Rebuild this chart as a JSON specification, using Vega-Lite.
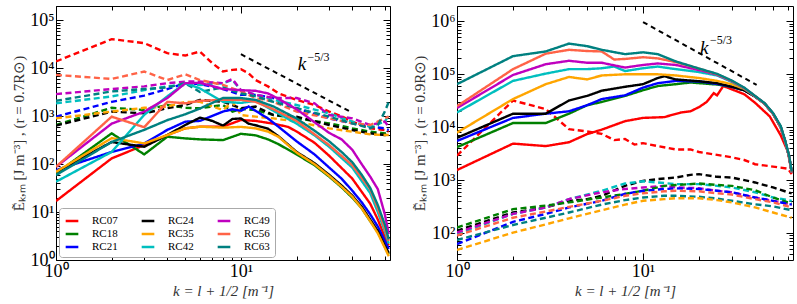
{
"$schema": "https://vega.github.io/schema/vega-lite/v6.json",
"padding": {"left": 11, "top": 5, "right": 4, "bottom": 2},
"background": "white",
"config": {
  "view": {"stroke": "#000", "strokeWidth": 1},
  "axis": {"grid": false, "domain": false, "labelFont": "Liberation Serif", "labelColor": "#000", "tickColor": "#000", "titleFont": "Liberation Serif", "titleFontSize": 15, "titleFontWeight": "normal", "titleColor": "#333", "labelOverlap": false, "labelFlush": false, "labelBound": false}
},
"datasets": {
"L": [
{"s":"RC07","d":"d","k":1,"v":13900},{"s":"RC07","d":"d","k":2,"v":40700},{"s":"RC07","d":"d","k":3,"v":33600},{"s":"RC07","d":"d","k":4,"v":20700},{"s":"RC07","d":"d","k":5,"v":18500},{"s":"RC07","d":"d","k":6,"v":22400},{"s":"RC07","d":"d","k":7,"v":12800},{"s":"RC07","d":"d","k":8,"v":8600},{"s":"RC07","d":"d","k":9,"v":9300},{"s":"RC07","d":"d","k":10,"v":9600},{"s":"RC07","d":"d","k":11,"v":7900},{"s":"RC07","d":"d","k":12,"v":5700},{"s":"RC07","d":"d","k":14,"v":4200},{"s":"RC07","d":"d","k":16,"v":3000},{"s":"RC07","d":"d","k":20,"v":2200},{"s":"RC07","d":"d","k":25,"v":1720},{"s":"RC07","d":"d","k":30,"v":1250},{"s":"RC07","d":"d","k":35,"v":1000},{"s":"RC07","d":"d","k":40,"v":771},{"s":"RC07","d":"d","k":50,"v":560},{"s":"RC07","d":"d","k":60,"v":516},{"s":"RC07","d":"d","k":63,"v":476},
{"s":"RC18","d":"d","k":1,"v":657},{"s":"RC18","d":"d","k":2,"v":1500},{"s":"RC18","d":"d","k":3,"v":1350},{"s":"RC18","d":"d","k":4,"v":1720},{"s":"RC18","d":"d","k":5,"v":1500},{"s":"RC18","d":"d","k":6,"v":1470},{"s":"RC18","d":"d","k":8,"v":1720},{"s":"RC18","d":"d","k":9,"v":1250},{"s":"RC18","d":"d","k":10,"v":1420},{"s":"RC18","d":"d","k":12,"v":1350},{"s":"RC18","d":"d","k":15,"v":1060},{"s":"RC18","d":"d","k":20,"v":905},{"s":"RC18","d":"d","k":30,"v":711},{"s":"RC18","d":"d","k":40,"v":560},{"s":"RC18","d":"d","k":50,"v":476},{"s":"RC18","d":"d","k":60,"v":440},{"s":"RC18","d":"d","k":63,"v":476},
{"s":"RC21","d":"d","k":1,"v":980},{"s":"RC21","d":"d","k":2,"v":2000},{"s":"RC21","d":"d","k":3,"v":2700},{"s":"RC21","d":"d","k":4,"v":3700},{"s":"RC21","d":"d","k":5,"v":4900},{"s":"RC21","d":"d","k":6,"v":4700},{"s":"RC21","d":"d","k":8,"v":3700},{"s":"RC21","d":"d","k":10,"v":2800},{"s":"RC21","d":"d","k":12,"v":2800},{"s":"RC21","d":"d","k":15,"v":2400},{"s":"RC21","d":"d","k":20,"v":1470},{"s":"RC21","d":"d","k":30,"v":905},{"s":"RC21","d":"d","k":40,"v":711},{"s":"RC21","d":"d","k":50,"v":606},{"s":"RC21","d":"d","k":60,"v":560},{"s":"RC21","d":"d","k":63,"v":516},
{"s":"RC24","d":"d","k":1,"v":636},{"s":"RC24","d":"d","k":2,"v":1250},{"s":"RC24","d":"d","k":3,"v":1150},{"s":"RC24","d":"d","k":4,"v":1470},{"s":"RC24","d":"d","k":5,"v":1720},{"s":"RC24","d":"d","k":6,"v":2200},{"s":"RC24","d":"d","k":8,"v":2000},{"s":"RC24","d":"d","k":10,"v":1470},{"s":"RC24","d":"d","k":12,"v":1590},{"s":"RC24","d":"d","k":15,"v":1060},{"s":"RC24","d":"d","k":20,"v":980},{"s":"RC24","d":"d","k":30,"v":657},{"s":"RC24","d":"d","k":40,"v":516},{"s":"RC24","d":"d","k":50,"v":440},{"s":"RC24","d":"d","k":60,"v":405},{"s":"RC24","d":"d","k":63,"v":405},
{"s":"RC35","d":"d","k":1,"v":905},{"s":"RC35","d":"d","k":2,"v":1250},{"s":"RC35","d":"d","k":3,"v":1500},{"s":"RC35","d":"d","k":4,"v":1590},{"s":"RC35","d":"d","k":5,"v":2000},{"s":"RC35","d":"d","k":6,"v":2000},{"s":"RC35","d":"d","k":8,"v":1350},{"s":"RC35","d":"d","k":9,"v":2000},{"s":"RC35","d":"d","k":10,"v":1060},{"s":"RC35","d":"d","k":12,"v":980},{"s":"RC35","d":"d","k":15,"v":905},{"s":"RC35","d":"d","k":20,"v":771},{"s":"RC35","d":"d","k":30,"v":560},{"s":"RC35","d":"d","k":40,"v":476},{"s":"RC35","d":"d","k":50,"v":419},{"s":"RC35","d":"d","k":60,"v":405},{"s":"RC35","d":"d","k":63,"v":405},
{"s":"RC42","d":"d","k":1,"v":1860},{"s":"RC42","d":"d","k":2,"v":2600},{"s":"RC42","d":"d","k":3,"v":3500},{"s":"RC42","d":"d","k":4,"v":4200},{"s":"RC42","d":"d","k":5,"v":4500},{"s":"RC42","d":"d","k":6,"v":4500},{"s":"RC42","d":"d","k":8,"v":4900},{"s":"RC42","d":"d","k":9,"v":5700},{"s":"RC42","d":"d","k":10,"v":3500},{"s":"RC42","d":"d","k":12,"v":2800},{"s":"RC42","d":"d","k":15,"v":2200},{"s":"RC42","d":"d","k":20,"v":1720},{"s":"RC42","d":"d","k":30,"v":1150},{"s":"RC42","d":"d","k":40,"v":771},{"s":"RC42","d":"d","k":50,"v":606},{"s":"RC42","d":"d","k":60,"v":771},{"s":"RC42","d":"d","k":63,"v":1060},
{"s":"RC49","d":"d","k":1,"v":2900},{"s":"RC49","d":"d","k":2,"v":3700},{"s":"RC49","d":"d","k":3,"v":4200},{"s":"RC49","d":"d","k":4,"v":4900},{"s":"RC49","d":"d","k":5,"v":5300},{"s":"RC49","d":"d","k":6,"v":5300},{"s":"RC49","d":"d","k":8,"v":4900},{"s":"RC49","d":"d","k":9,"v":6000},{"s":"RC49","d":"d","k":10,"v":3500},{"s":"RC49","d":"d","k":12,"v":2800},{"s":"RC49","d":"d","k":15,"v":2400},{"s":"RC49","d":"d","k":20,"v":2400},{"s":"RC49","d":"d","k":25,"v":1860},{"s":"RC49","d":"d","k":30,"v":1060},{"s":"RC49","d":"d","k":40,"v":905},{"s":"RC49","d":"d","k":50,"v":657},{"s":"RC49","d":"d","k":60,"v":771},{"s":"RC49","d":"d","k":63,"v":606},
{"s":"RC56","d":"d","k":1,"v":7300},{"s":"RC56","d":"d","k":2,"v":6000},{"s":"RC56","d":"d","k":3,"v":8600},{"s":"RC56","d":"d","k":4,"v":5700},{"s":"RC56","d":"d","k":5,"v":7500},{"s":"RC56","d":"d","k":6,"v":5700},{"s":"RC56","d":"d","k":8,"v":4500},{"s":"RC56","d":"d","k":10,"v":3300},{"s":"RC56","d":"d","k":12,"v":2400},{"s":"RC56","d":"d","k":15,"v":2000},{"s":"RC56","d":"d","k":20,"v":1250},{"s":"RC56","d":"d","k":30,"v":905},{"s":"RC56","d":"d","k":40,"v":711},{"s":"RC56","d":"d","k":50,"v":657},{"s":"RC56","d":"d","k":60,"v":905},{"s":"RC56","d":"d","k":63,"v":980},
{"s":"RC63","d":"d","k":1,"v":2100},{"s":"RC63","d":"d","k":2,"v":3300},{"s":"RC63","d":"d","k":3,"v":3700},{"s":"RC63","d":"d","k":4,"v":4000},{"s":"RC63","d":"d","k":5,"v":4900},{"s":"RC63","d":"d","k":6,"v":3200},{"s":"RC63","d":"d","k":8,"v":4000},{"s":"RC63","d":"d","k":10,"v":3000},{"s":"RC63","d":"d","k":12,"v":2600},{"s":"RC63","d":"d","k":15,"v":2000},{"s":"RC63","d":"d","k":20,"v":1470},{"s":"RC63","d":"d","k":30,"v":980},{"s":"RC63","d":"d","k":40,"v":711},{"s":"RC63","d":"d","k":50,"v":560},{"s":"RC63","d":"d","k":55,"v":657},{"s":"RC63","d":"d","k":60,"v":1250},{"s":"RC63","d":"d","k":63,"v":2000},
{"s":"RC07","d":"s","k":1,"v":17},{"s":"RC07","d":"s","k":2,"v":132},{"s":"RC07","d":"s","k":3,"v":250},{"s":"RC07","d":"s","k":4,"v":405},{"s":"RC07","d":"s","k":5,"v":560},{"s":"RC07","d":"s","k":6,"v":606},{"s":"RC07","d":"s","k":8,"v":606},{"s":"RC07","d":"s","k":10,"v":835},{"s":"RC07","d":"s","k":12,"v":800},{"s":"RC07","d":"s","k":15,"v":700},{"s":"RC07","d":"s","k":18,"v":600},{"s":"RC07","d":"s","k":20,"v":480},{"s":"RC07","d":"s","k":25,"v":280},{"s":"RC07","d":"s","k":30,"v":150},{"s":"RC07","d":"s","k":40,"v":50},{"s":"RC07","d":"s","k":50,"v":15},{"s":"RC07","d":"s","k":55,"v":7},{"s":"RC07","d":"s","k":60,"v":3},{"s":"RC07","d":"s","k":63,"v":2},
{"s":"RC18","d":"s","k":1,"v":64},{"s":"RC18","d":"s","k":2,"v":440},{"s":"RC18","d":"s","k":3,"v":160},{"s":"RC18","d":"s","k":4,"v":374},{"s":"RC18","d":"s","k":5,"v":345},{"s":"RC18","d":"s","k":6,"v":329},{"s":"RC18","d":"s","k":8,"v":318},{"s":"RC18","d":"s","k":10,"v":430},{"s":"RC18","d":"s","k":12,"v":400},{"s":"RC18","d":"s","k":14,"v":330},{"s":"RC18","d":"s","k":16,"v":260},{"s":"RC18","d":"s","k":20,"v":160},{"s":"RC18","d":"s","k":25,"v":95},{"s":"RC18","d":"s","k":30,"v":55},{"s":"RC18","d":"s","k":35,"v":33},{"s":"RC18","d":"s","k":40,"v":20},{"s":"RC18","d":"s","k":45,"v":12},{"s":"RC18","d":"s","k":50,"v":6.5},{"s":"RC18","d":"s","k":55,"v":3.8},{"s":"RC18","d":"s","k":60,"v":1.9},{"s":"RC18","d":"s","k":63,"v":1.3},
{"s":"RC21","d":"s","k":1,"v":75},{"s":"RC21","d":"s","k":2,"v":180},{"s":"RC21","d":"s","k":3,"v":270},{"s":"RC21","d":"s","k":4,"v":520},{"s":"RC21","d":"s","k":5,"v":770},{"s":"RC21","d":"s","k":6,"v":800},{"s":"RC21","d":"s","k":8,"v":1250},{"s":"RC21","d":"s","k":9,"v":1400},{"s":"RC21","d":"s","k":10,"v":1300},{"s":"RC21","d":"s","k":11,"v":1600},{"s":"RC21","d":"s","k":12,"v":1300},{"s":"RC21","d":"s","k":14,"v":900},{"s":"RC21","d":"s","k":16,"v":600},{"s":"RC21","d":"s","k":20,"v":300},{"s":"RC21","d":"s","k":25,"v":160},{"s":"RC21","d":"s","k":30,"v":85},{"s":"RC21","d":"s","k":35,"v":50},{"s":"RC21","d":"s","k":40,"v":28},{"s":"RC21","d":"s","k":45,"v":16},{"s":"RC21","d":"s","k":50,"v":9},{"s":"RC21","d":"s","k":55,"v":5},{"s":"RC21","d":"s","k":60,"v":2.5},{"s":"RC21","d":"s","k":63,"v":1.7},
{"s":"RC24","d":"s","k":1,"v":69},{"s":"RC24","d":"s","k":2,"v":290},{"s":"RC24","d":"s","k":3,"v":231},{"s":"RC24","d":"s","k":4,"v":405},{"s":"RC24","d":"s","k":5,"v":657},{"s":"RC24","d":"s","k":6,"v":935},{"s":"RC24","d":"s","k":7,"v":800},{"s":"RC24","d":"s","k":8,"v":636},{"s":"RC24","d":"s","k":9,"v":877},{"s":"RC24","d":"s","k":10,"v":900},{"s":"RC24","d":"s","k":11,"v":700},{"s":"RC24","d":"s","k":12,"v":650},{"s":"RC24","d":"s","k":14,"v":550},{"s":"RC24","d":"s","k":16,"v":380},{"s":"RC24","d":"s","k":20,"v":180},{"s":"RC24","d":"s","k":25,"v":105},{"s":"RC24","d":"s","k":30,"v":60},{"s":"RC24","d":"s","k":35,"v":36},{"s":"RC24","d":"s","k":40,"v":22},{"s":"RC24","d":"s","k":45,"v":13},{"s":"RC24","d":"s","k":50,"v":7},{"s":"RC24","d":"s","k":55,"v":4},{"s":"RC24","d":"s","k":60,"v":2},{"s":"RC24","d":"s","k":63,"v":1.4},
{"s":"RC35","d":"s","k":1,"v":69},{"s":"RC35","d":"s","k":2,"v":350},{"s":"RC35","d":"s","k":3,"v":271},{"s":"RC35","d":"s","k":4,"v":405},{"s":"RC35","d":"s","k":5,"v":560},{"s":"RC35","d":"s","k":6,"v":606},{"s":"RC35","d":"s","k":8,"v":578},{"s":"RC35","d":"s","k":10,"v":600},{"s":"RC35","d":"s","k":12,"v":560},{"s":"RC35","d":"s","k":14,"v":480},{"s":"RC35","d":"s","k":16,"v":370},{"s":"RC35","d":"s","k":20,"v":175},{"s":"RC35","d":"s","k":25,"v":100},{"s":"RC35","d":"s","k":30,"v":57},{"s":"RC35","d":"s","k":35,"v":34},{"s":"RC35","d":"s","k":40,"v":21},{"s":"RC35","d":"s","k":45,"v":12},{"s":"RC35","d":"s","k":50,"v":6.5},{"s":"RC35","d":"s","k":55,"v":3.6},{"s":"RC35","d":"s","k":60,"v":1.8},{"s":"RC35","d":"s","k":63,"v":1.2},
{"s":"RC42","d":"s","k":1,"v":43},{"s":"RC42","d":"s","k":2,"v":180},{"s":"RC42","d":"s","k":3,"v":1070},{"s":"RC42","d":"s","k":4,"v":2600},{"s":"RC42","d":"s","k":5,"v":4900},{"s":"RC42","d":"s","k":6,"v":3800},{"s":"RC42","d":"s","k":7,"v":2700},{"s":"RC42","d":"s","k":8,"v":2000},{"s":"RC42","d":"s","k":10,"v":1900},{"s":"RC42","d":"s","k":12,"v":2100},{"s":"RC42","d":"s","k":15,"v":1300},{"s":"RC42","d":"s","k":20,"v":700},{"s":"RC42","d":"s","k":25,"v":400},{"s":"RC42","d":"s","k":30,"v":230},{"s":"RC42","d":"s","k":40,"v":85},{"s":"RC42","d":"s","k":50,"v":25},{"s":"RC42","d":"s","k":55,"v":10},{"s":"RC42","d":"s","k":60,"v":4},{"s":"RC42","d":"s","k":63,"v":2.2},
{"s":"RC49","d":"s","k":1,"v":88},{"s":"RC49","d":"s","k":2,"v":700},{"s":"RC49","d":"s","k":3,"v":1250},{"s":"RC49","d":"s","k":4,"v":2400},{"s":"RC49","d":"s","k":5,"v":4900},{"s":"RC49","d":"s","k":6,"v":5000},{"s":"RC49","d":"s","k":8,"v":3700},{"s":"RC49","d":"s","k":10,"v":3500},{"s":"RC49","d":"s","k":12,"v":3400},{"s":"RC49","d":"s","k":14,"v":3000},{"s":"RC49","d":"s","k":16,"v":2300},{"s":"RC49","d":"s","k":20,"v":1400},{"s":"RC49","d":"s","k":25,"v":750},{"s":"RC49","d":"s","k":30,"v":450},{"s":"RC49","d":"s","k":35,"v":330},{"s":"RC49","d":"s","k":40,"v":200},{"s":"RC49","d":"s","k":45,"v":100},{"s":"RC49","d":"s","k":50,"v":55},{"s":"RC49","d":"s","k":55,"v":30},{"s":"RC49","d":"s","k":60,"v":9},{"s":"RC49","d":"s","k":63,"v":3.5},
{"s":"RC56","d":"s","k":1,"v":88},{"s":"RC56","d":"s","k":2,"v":980},{"s":"RC56","d":"s","k":3,"v":590},{"s":"RC56","d":"s","k":4,"v":2000},{"s":"RC56","d":"s","k":5,"v":1860},{"s":"RC56","d":"s","k":6,"v":2100},{"s":"RC56","d":"s","k":8,"v":2200},{"s":"RC56","d":"s","k":10,"v":2200},{"s":"RC56","d":"s","k":12,"v":2000},{"s":"RC56","d":"s","k":15,"v":1400},{"s":"RC56","d":"s","k":20,"v":800},{"s":"RC56","d":"s","k":25,"v":420},{"s":"RC56","d":"s","k":30,"v":250},{"s":"RC56","d":"s","k":40,"v":95},{"s":"RC56","d":"s","k":50,"v":30},{"s":"RC56","d":"s","k":55,"v":12},{"s":"RC56","d":"s","k":60,"v":4.5},{"s":"RC56","d":"s","k":63,"v":2.5},
{"s":"RC63","d":"s","k":1,"v":59},{"s":"RC63","d":"s","k":2,"v":290},{"s":"RC63","d":"s","k":3,"v":520},{"s":"RC63","d":"s","k":4,"v":830},{"s":"RC63","d":"s","k":5,"v":1100},{"s":"RC63","d":"s","k":6,"v":1450},{"s":"RC63","d":"s","k":8,"v":2400},{"s":"RC63","d":"s","k":10,"v":2400},{"s":"RC63","d":"s","k":12,"v":2200},{"s":"RC63","d":"s","k":15,"v":1600},{"s":"RC63","d":"s","k":20,"v":900},{"s":"RC63","d":"s","k":25,"v":500},{"s":"RC63","d":"s","k":30,"v":300},{"s":"RC63","d":"s","k":35,"v":180},{"s":"RC63","d":"s","k":40,"v":110},{"s":"RC63","d":"s","k":45,"v":60},{"s":"RC63","d":"s","k":50,"v":32},{"s":"RC63","d":"s","k":55,"v":14},{"s":"RC63","d":"s","k":60,"v":5.5},{"s":"RC63","d":"s","k":63,"v":2.7}
],
"R": [
{"s":"RC07","d":"d","k":1,"v":2900},{"s":"RC07","d":"d","k":2,"v":32000},{"s":"RC07","d":"d","k":3,"v":22000},{"s":"RC07","d":"d","k":4,"v":9200},{"s":"RC07","d":"d","k":5,"v":8300},{"s":"RC07","d":"d","k":6,"v":7500},{"s":"RC07","d":"d","k":7,"v":5700},{"s":"RC07","d":"d","k":8,"v":6000},{"s":"RC07","d":"d","k":9,"v":4700},{"s":"RC07","d":"d","k":10,"v":5000},{"s":"RC07","d":"d","k":12,"v":4400},{"s":"RC07","d":"d","k":15,"v":3800},{"s":"RC07","d":"d","k":18,"v":3800},{"s":"RC07","d":"d","k":20,"v":3400},{"s":"RC07","d":"d","k":25,"v":3000},{"s":"RC07","d":"d","k":30,"v":2700},{"s":"RC07","d":"d","k":35,"v":2400},{"s":"RC07","d":"d","k":40,"v":2000},{"s":"RC07","d":"d","k":50,"v":1800},{"s":"RC07","d":"d","k":60,"v":1650},{"s":"RC07","d":"d","k":63,"v":1300},
{"s":"RC24","d":"d","k":1,"v":111},{"s":"RC24","d":"d","k":2,"v":245},{"s":"RC24","d":"d","k":3,"v":305},{"s":"RC24","d":"d","k":4,"v":407},{"s":"RC24","d":"d","k":5,"v":438},{"s":"RC24","d":"d","k":6,"v":506},{"s":"RC24","d":"d","k":8,"v":782},{"s":"RC24","d":"d","k":10,"v":970},{"s":"RC24","d":"d","k":12,"v":1045},{"s":"RC24","d":"d","k":15,"v":1122},{"s":"RC24","d":"d","k":18,"v":1260},{"s":"RC24","d":"d","k":20,"v":1297},{"s":"RC24","d":"d","k":25,"v":1156},{"s":"RC24","d":"d","k":30,"v":1122},{"s":"RC24","d":"d","k":40,"v":904},{"s":"RC24","d":"d","k":50,"v":728},{"s":"RC24","d":"d","k":63,"v":560},
{"s":"RC42","d":"d","k":1,"v":96},{"s":"RC42","d":"d","k":2,"v":230},{"s":"RC42","d":"d","k":3,"v":305},{"s":"RC42","d":"d","k":4,"v":438},{"s":"RC42","d":"d","k":6,"v":630},{"s":"RC42","d":"d","k":8,"v":863},{"s":"RC42","d":"d","k":10,"v":950},{"s":"RC42","d":"d","k":12,"v":904},{"s":"RC42","d":"d","k":15,"v":840},{"s":"RC42","d":"d","k":20,"v":840},{"s":"RC42","d":"d","k":25,"v":780},{"s":"RC42","d":"d","k":30,"v":728},{"s":"RC42","d":"d","k":40,"v":590},{"s":"RC42","d":"d","k":50,"v":470},{"s":"RC42","d":"d","k":63,"v":407},
{"s":"RC49","d":"d","k":1,"v":102},{"s":"RC49","d":"d","k":2,"v":230},{"s":"RC49","d":"d","k":3,"v":305},{"s":"RC49","d":"d","k":4,"v":438},{"s":"RC49","d":"d","k":6,"v":590},{"s":"RC49","d":"d","k":8,"v":680},{"s":"RC49","d":"d","k":10,"v":728},{"s":"RC49","d":"d","k":13,"v":780},{"s":"RC49","d":"d","k":15,"v":728},{"s":"RC49","d":"d","k":20,"v":705},{"s":"RC49","d":"d","k":25,"v":630},{"s":"RC49","d":"d","k":30,"v":590},{"s":"RC49","d":"d","k":40,"v":470},{"s":"RC49","d":"d","k":50,"v":407},{"s":"RC49","d":"d","k":63,"v":345},
{"s":"RC18","d":"d","k":1,"v":127},{"s":"RC18","d":"d","k":2,"v":283},{"s":"RC18","d":"d","k":3,"v":330},{"s":"RC18","d":"d","k":4,"v":380},{"s":"RC18","d":"d","k":6,"v":470},{"s":"RC18","d":"d","k":8,"v":550},{"s":"RC18","d":"d","k":10,"v":630},{"s":"RC18","d":"d","k":13,"v":780},{"s":"RC18","d":"d","k":15,"v":810},{"s":"RC18","d":"d","k":20,"v":863},{"s":"RC18","d":"d","k":25,"v":810},{"s":"RC18","d":"d","k":30,"v":780},{"s":"RC18","d":"d","k":40,"v":645},{"s":"RC18","d":"d","k":50,"v":470},{"s":"RC18","d":"d","k":63,"v":360},
{"s":"RC21","d":"d","k":1,"v":62},{"s":"RC21","d":"d","k":2,"v":163},{"s":"RC21","d":"d","k":3,"v":230},{"s":"RC21","d":"d","k":4,"v":305},{"s":"RC21","d":"d","k":6,"v":407},{"s":"RC21","d":"d","k":8,"v":550},{"s":"RC21","d":"d","k":10,"v":630},{"s":"RC21","d":"d","k":13,"v":680},{"s":"RC21","d":"d","k":15,"v":700},{"s":"RC21","d":"d","k":20,"v":680},{"s":"RC21","d":"d","k":25,"v":630},{"s":"RC21","d":"d","k":30,"v":590},{"s":"RC21","d":"d","k":40,"v":470},{"s":"RC21","d":"d","k":50,"v":407},{"s":"RC21","d":"d","k":63,"v":345},
{"s":"RC56","d":"d","k":1,"v":90},{"s":"RC56","d":"d","k":2,"v":195},{"s":"RC56","d":"d","k":3,"v":255},{"s":"RC56","d":"d","k":4,"v":313},{"s":"RC56","d":"d","k":6,"v":407},{"s":"RC56","d":"d","k":8,"v":506},{"s":"RC56","d":"d","k":10,"v":565},{"s":"RC56","d":"d","k":13,"v":615},{"s":"RC56","d":"d","k":15,"v":630},{"s":"RC56","d":"d","k":20,"v":615},{"s":"RC56","d":"d","k":25,"v":565},{"s":"RC56","d":"d","k":30,"v":535},{"s":"RC56","d":"d","k":40,"v":438},{"s":"RC56","d":"d","k":50,"v":380},{"s":"RC56","d":"d","k":63,"v":305},
{"s":"RC63","d":"d","k":1,"v":74},{"s":"RC63","d":"d","k":2,"v":142},{"s":"RC63","d":"d","k":3,"v":195},{"s":"RC63","d":"d","k":4,"v":245},{"s":"RC63","d":"d","k":6,"v":345},{"s":"RC63","d":"d","k":8,"v":420},{"s":"RC63","d":"d","k":10,"v":470},{"s":"RC63","d":"d","k":13,"v":506},{"s":"RC63","d":"d","k":15,"v":506},{"s":"RC63","d":"d","k":20,"v":485},{"s":"RC63","d":"d","k":25,"v":450},{"s":"RC63","d":"d","k":30,"v":407},{"s":"RC63","d":"d","k":40,"v":350},{"s":"RC63","d":"d","k":50,"v":320},{"s":"RC63","d":"d","k":63,"v":270},
{"s":"RC35","d":"d","k":1,"v":48},{"s":"RC35","d":"d","k":2,"v":102},{"s":"RC35","d":"d","k":3,"v":146},{"s":"RC35","d":"d","k":4,"v":190},{"s":"RC35","d":"d","k":6,"v":270},{"s":"RC35","d":"d","k":8,"v":345},{"s":"RC35","d":"d","k":10,"v":407},{"s":"RC35","d":"d","k":13,"v":438},{"s":"RC35","d":"d","k":15,"v":455},{"s":"RC35","d":"d","k":20,"v":455},{"s":"RC35","d":"d","k":25,"v":420},{"s":"RC35","d":"d","k":30,"v":380},{"s":"RC35","d":"d","k":40,"v":305},{"s":"RC35","d":"d","k":50,"v":245},{"s":"RC35","d":"d","k":63,"v":195},
{"s":"RC07","d":"s","k":1,"v":1550},{"s":"RC07","d":"s","k":2,"v":4900},{"s":"RC07","d":"s","k":3,"v":4400},{"s":"RC07","d":"s","k":4,"v":5200},{"s":"RC07","d":"s","k":5,"v":7400},{"s":"RC07","d":"s","k":6,"v":9000},{"s":"RC07","d":"s","k":8,"v":13000},{"s":"RC07","d":"s","k":10,"v":15000},{"s":"RC07","d":"s","k":13,"v":15500},{"s":"RC07","d":"s","k":16,"v":19000},{"s":"RC07","d":"s","k":18,"v":20000},{"s":"RC07","d":"s","k":20,"v":24000},{"s":"RC07","d":"s","k":22,"v":30000},{"s":"RC07","d":"s","k":24,"v":44000},{"s":"RC07","d":"s","k":25,"v":40000},{"s":"RC07","d":"s","k":27,"v":60000},{"s":"RC07","d":"s","k":30,"v":52000},{"s":"RC07","d":"s","k":35,"v":42000},{"s":"RC07","d":"s","k":40,"v":29000},{"s":"RC07","d":"s","k":48,"v":16000},{"s":"RC07","d":"s","k":55,"v":7000},{"s":"RC07","d":"s","k":60,"v":3500},{"s":"RC07","d":"s","k":63,"v":1400},
{"s":"RC18","d":"s","k":1,"v":4200},{"s":"RC18","d":"s","k":2,"v":12000},{"s":"RC18","d":"s","k":3,"v":12000},{"s":"RC18","d":"s","k":4,"v":18000},{"s":"RC18","d":"s","k":5,"v":26000},{"s":"RC18","d":"s","k":6,"v":30000},{"s":"RC18","d":"s","k":8,"v":39000},{"s":"RC18","d":"s","k":10,"v":50000},{"s":"RC18","d":"s","k":12,"v":60000},{"s":"RC18","d":"s","k":15,"v":65000},{"s":"RC18","d":"s","k":18,"v":70000},{"s":"RC18","d":"s","k":20,"v":68000},{"s":"RC18","d":"s","k":25,"v":64000},{"s":"RC18","d":"s","k":30,"v":58000},{"s":"RC18","d":"s","k":35,"v":50000},{"s":"RC18","d":"s","k":40,"v":38000},{"s":"RC18","d":"s","k":45,"v":28000},{"s":"RC18","d":"s","k":50,"v":18000},{"s":"RC18","d":"s","k":55,"v":10000},{"s":"RC18","d":"s","k":58,"v":5500},{"s":"RC18","d":"s","k":61,"v":2800},{"s":"RC18","d":"s","k":63,"v":1400},
{"s":"RC21","d":"s","k":1,"v":5500},{"s":"RC21","d":"s","k":2,"v":15000},{"s":"RC21","d":"s","k":3,"v":18000},{"s":"RC21","d":"s","k":4,"v":20000},{"s":"RC21","d":"s","k":5,"v":26000},{"s":"RC21","d":"s","k":6,"v":34000},{"s":"RC21","d":"s","k":8,"v":40000},{"s":"RC21","d":"s","k":10,"v":56000},{"s":"RC21","d":"s","k":12,"v":68000},{"s":"RC21","d":"s","k":15,"v":75000},{"s":"RC21","d":"s","k":20,"v":73000},{"s":"RC21","d":"s","k":25,"v":66000},{"s":"RC21","d":"s","k":30,"v":58000},{"s":"RC21","d":"s","k":35,"v":50000},{"s":"RC21","d":"s","k":40,"v":38000},{"s":"RC21","d":"s","k":45,"v":28000},{"s":"RC21","d":"s","k":50,"v":18000},{"s":"RC21","d":"s","k":55,"v":10000},{"s":"RC21","d":"s","k":58,"v":5500},{"s":"RC21","d":"s","k":61,"v":2800},{"s":"RC21","d":"s","k":63,"v":1400},
{"s":"RC24","d":"s","k":1,"v":6300},{"s":"RC24","d":"s","k":2,"v":18000},{"s":"RC24","d":"s","k":3,"v":18000},{"s":"RC24","d":"s","k":4,"v":32000},{"s":"RC24","d":"s","k":5,"v":39000},{"s":"RC24","d":"s","k":6,"v":49000},{"s":"RC24","d":"s","k":8,"v":58000},{"s":"RC24","d":"s","k":10,"v":65000},{"s":"RC24","d":"s","k":12,"v":85000},{"s":"RC24","d":"s","k":13,"v":92000},{"s":"RC24","d":"s","k":15,"v":80000},{"s":"RC24","d":"s","k":20,"v":74000},{"s":"RC24","d":"s","k":25,"v":68000},{"s":"RC24","d":"s","k":30,"v":58000},{"s":"RC24","d":"s","k":35,"v":50000},{"s":"RC24","d":"s","k":40,"v":38000},{"s":"RC24","d":"s","k":45,"v":28000},{"s":"RC24","d":"s","k":50,"v":18000},{"s":"RC24","d":"s","k":55,"v":10000},{"s":"RC24","d":"s","k":58,"v":5500},{"s":"RC24","d":"s","k":61,"v":2800},{"s":"RC24","d":"s","k":63,"v":1400},
{"s":"RC35","d":"s","k":1,"v":7900},{"s":"RC35","d":"s","k":2,"v":34000},{"s":"RC35","d":"s","k":3,"v":65000},{"s":"RC35","d":"s","k":4,"v":89000},{"s":"RC35","d":"s","k":5,"v":80000},{"s":"RC35","d":"s","k":6,"v":95000},{"s":"RC35","d":"s","k":8,"v":100000},{"s":"RC35","d":"s","k":10,"v":100000},{"s":"RC35","d":"s","k":12,"v":100000},{"s":"RC35","d":"s","k":15,"v":95000},{"s":"RC35","d":"s","k":20,"v":85000},{"s":"RC35","d":"s","k":25,"v":75000},{"s":"RC35","d":"s","k":30,"v":65000},{"s":"RC35","d":"s","k":35,"v":53000},{"s":"RC35","d":"s","k":40,"v":38500},{"s":"RC35","d":"s","k":45,"v":28000},{"s":"RC35","d":"s","k":50,"v":18000},{"s":"RC35","d":"s","k":55,"v":10000},{"s":"RC35","d":"s","k":58,"v":5500},{"s":"RC35","d":"s","k":61,"v":2800},{"s":"RC35","d":"s","k":63,"v":1400},
{"s":"RC42","d":"s","k":1,"v":19000},{"s":"RC42","d":"s","k":2,"v":75000},{"s":"RC42","d":"s","k":3,"v":103000},{"s":"RC42","d":"s","k":4,"v":125000},{"s":"RC42","d":"s","k":5,"v":125000},{"s":"RC42","d":"s","k":6,"v":130000},{"s":"RC42","d":"s","k":7,"v":140000},{"s":"RC42","d":"s","k":8,"v":115000},{"s":"RC42","d":"s","k":10,"v":130000},{"s":"RC42","d":"s","k":12,"v":140000},{"s":"RC42","d":"s","k":15,"v":125000},{"s":"RC42","d":"s","k":20,"v":110000},{"s":"RC42","d":"s","k":25,"v":95000},{"s":"RC42","d":"s","k":30,"v":72000},{"s":"RC42","d":"s","k":35,"v":54000},{"s":"RC42","d":"s","k":40,"v":38500},{"s":"RC42","d":"s","k":45,"v":28000},{"s":"RC42","d":"s","k":50,"v":18000},{"s":"RC42","d":"s","k":55,"v":10000},{"s":"RC42","d":"s","k":58,"v":5500},{"s":"RC42","d":"s","k":61,"v":2800},{"s":"RC42","d":"s","k":63,"v":1400},
{"s":"RC49","d":"s","k":1,"v":23000},{"s":"RC49","d":"s","k":2,"v":97000},{"s":"RC49","d":"s","k":3,"v":155000},{"s":"RC49","d":"s","k":4,"v":180000},{"s":"RC49","d":"s","k":5,"v":165000},{"s":"RC49","d":"s","k":6,"v":165000},{"s":"RC49","d":"s","k":8,"v":134000},{"s":"RC49","d":"s","k":10,"v":150000},{"s":"RC49","d":"s","k":12,"v":160000},{"s":"RC49","d":"s","k":15,"v":150000},{"s":"RC49","d":"s","k":20,"v":120000},{"s":"RC49","d":"s","k":25,"v":98000},{"s":"RC49","d":"s","k":30,"v":74000},{"s":"RC49","d":"s","k":35,"v":55000},{"s":"RC49","d":"s","k":40,"v":38500},{"s":"RC49","d":"s","k":45,"v":28000},{"s":"RC49","d":"s","k":50,"v":18000},{"s":"RC49","d":"s","k":55,"v":10000},{"s":"RC49","d":"s","k":58,"v":5500},{"s":"RC49","d":"s","k":61,"v":2800},{"s":"RC49","d":"s","k":63,"v":1400},
{"s":"RC56","d":"s","k":1,"v":25000},{"s":"RC56","d":"s","k":2,"v":125000},{"s":"RC56","d":"s","k":3,"v":245000},{"s":"RC56","d":"s","k":4,"v":290000},{"s":"RC56","d":"s","k":5,"v":275000},{"s":"RC56","d":"s","k":6,"v":270000},{"s":"RC56","d":"s","k":7,"v":190000},{"s":"RC56","d":"s","k":8,"v":195000},{"s":"RC56","d":"s","k":10,"v":210000},{"s":"RC56","d":"s","k":12,"v":200000},{"s":"RC56","d":"s","k":15,"v":170000},{"s":"RC56","d":"s","k":20,"v":128000},{"s":"RC56","d":"s","k":25,"v":100000},{"s":"RC56","d":"s","k":30,"v":75000},{"s":"RC56","d":"s","k":35,"v":55000},{"s":"RC56","d":"s","k":40,"v":38500},{"s":"RC56","d":"s","k":45,"v":28000},{"s":"RC56","d":"s","k":50,"v":18000},{"s":"RC56","d":"s","k":55,"v":10000},{"s":"RC56","d":"s","k":58,"v":5500},{"s":"RC56","d":"s","k":61,"v":2800},{"s":"RC56","d":"s","k":63,"v":1400},
{"s":"RC63","d":"s","k":1,"v":65000},{"s":"RC63","d":"s","k":2,"v":220000},{"s":"RC63","d":"s","k":3,"v":270000},{"s":"RC63","d":"s","k":4,"v":380000},{"s":"RC63","d":"s","k":5,"v":340000},{"s":"RC63","d":"s","k":6,"v":290000},{"s":"RC63","d":"s","k":8,"v":240000},{"s":"RC63","d":"s","k":10,"v":260000},{"s":"RC63","d":"s","k":12,"v":240000},{"s":"RC63","d":"s","k":15,"v":175000},{"s":"RC63","d":"s","k":20,"v":128000},{"s":"RC63","d":"s","k":25,"v":102000},{"s":"RC63","d":"s","k":30,"v":76000},{"s":"RC63","d":"s","k":35,"v":56000},{"s":"RC63","d":"s","k":40,"v":39000},{"s":"RC63","d":"s","k":45,"v":28500},{"s":"RC63","d":"s","k":50,"v":18500},{"s":"RC63","d":"s","k":55,"v":10500},{"s":"RC63","d":"s","k":58,"v":5700},{"s":"RC63","d":"s","k":61,"v":2900},{"s":"RC63","d":"s","k":63,"v":1450}
],
"Lref": [{"k":10,"v":19700},{"k":38.8,"v":1260}],
"Rref": [{"k":10,"v":970000},{"k":40.8,"v":63000}],
"Lk": [{"k":21.4,"v":12600,"t":"k"}],
"Lsup": [{"k":22.9,"v":17000,"t":"−5/3"}],
"Rk": [{"k":21.3,"v":320000,"t":"k"}],
"Rsup": [{"k":22.9,"v":440000,"t":"−5/3"}]
},
"hconcat": [
{
 "width": 334, "height": 254,
 "resolve": {"axis": {"x": "independent", "y": "independent"}},
 "layer": [
  {
   "data": {"name": "L"},
   "mark": {"type": "line", "strokeWidth": 2.4, "clip": true},
   "encoding": {
    "x": {"field": "k", "type": "quantitative", "scale": {"type": "log", "domain": [1, 64], "nice": false},
      "axis": {"orient": "bottom", "title": "k = l + 1/2   [m⁻¹]", "titleFontStyle": "italic", "titlePadding": 3, "tickCount": 10,
        "labelExpr": "abs(log(datum.value)/LN10 - round(log(datum.value)/LN10)) < 0.001 ? '10' + ['⁰','¹','²','³','⁴','⁵','⁶'][round(log(datum.value)/LN10)] : ''",
        "labelFontSize": {"condition": {"test": "abs(log(datum.value)/LN10 - round(log(datum.value)/LN10)) < 0.001", "value": 18}, "value": 0},
        "tickSize": {"condition": {"test": "abs(log(datum.value)/LN10 - round(log(datum.value)/LN10)) < 0.001", "value": -7}, "value": -4},
        "labelPadding": 9}},
    "y": {"field": "v", "type": "quantitative", "scale": {"type": "log", "domain": [1, 200000], "nice": false},
      "axis": {"orient": "left", "title": "Ẽₖ,ₘ  [J m⁻³]  ,  (r = 0.7R⊙)", "titlePadding": 3, "tickCount": 10,
        "labelExpr": "abs(log(datum.value)/LN10 - round(log(datum.value)/LN10)) < 0.001 ? '10' + ['⁰','¹','²','³','⁴','⁵','⁶'][round(log(datum.value)/LN10)] : ''",
        "labelFontSize": {"condition": {"test": "abs(log(datum.value)/LN10 - round(log(datum.value)/LN10)) < 0.001", "value": 18}, "value": 0},
        "tickSize": {"condition": {"test": "abs(log(datum.value)/LN10 - round(log(datum.value)/LN10)) < 0.001", "value": -7}, "value": -4},
        "labelPadding": 9}},
    "color": {"field": "s", "type": "nominal",
      "scale": {"domain": ["RC07","RC18","RC21","RC24","RC35","RC42","RC49","RC56","RC63"], "range": ["#ff0000","#008000","#0000ff","#000000","#ffa500","#00bfbf","#bf00bf","#ff6347","#008080"]},
      "legend": {"title": null, "orient": "bottom-left", "offset": 3, "columns": 3, "symbolType": "stroke", "symbolStrokeWidth": 2.5, "symbolSize": 160, "labelFont": "Liberation Serif", "labelFontSize": 11, "labelOffset": 12, "columnPadding": 18, "rowPadding": 0, "padding": 5, "fillColor": "white", "strokeColor": "#aaa", "cornerRadius": 3}},
    "strokeDash": {"field": "d", "type": "nominal", "scale": {"domain": ["s","d"], "range": [[1,0],[6,3.5]]}, "legend": null}
   }
  },
  {
   "data": {"name": "Lref"},
   "mark": {"type": "line", "color": "#000", "strokeWidth": 2, "strokeDash": [5,4]},
   "encoding": {
    "x": {"field": "k", "type": "quantitative", "scale": {"type": "log", "domain": [1, 64], "nice": false},
      "axis": {"orient": "top", "title": null, "labels": false, "tickCount": 10, "labelPadding": 0, "minExtent": 0, "maxExtent": 0,
        "tickSize": {"condition": {"test": "abs(log(datum.value)/LN10 - round(log(datum.value)/LN10)) < 0.001", "value": -7}, "value": -4}}},
    "y": {"field": "v", "type": "quantitative", "scale": {"type": "log", "domain": [1, 200000], "nice": false},
      "axis": {"orient": "right", "title": null, "labels": false, "tickCount": 10, "labelPadding": 0, "minExtent": 0, "maxExtent": 0,
        "tickSize": {"condition": {"test": "abs(log(datum.value)/LN10 - round(log(datum.value)/LN10)) < 0.001", "value": -7}, "value": -4}}}
   }
  },
  {
   "data": {"name": "Lk"},
   "mark": {"type": "text", "font": "Liberation Serif", "fontStyle": "italic", "fontSize": 19, "align": "center", "baseline": "middle", "color": "#000"},
   "encoding": {
    "x": {"field": "k", "type": "quantitative", "scale": {"type": "log", "domain": [1, 64], "nice": false}, "axis": null},
    "y": {"field": "v", "type": "quantitative", "scale": {"type": "log", "domain": [1, 200000], "nice": false}, "axis": null},
    "text": {"field": "t"}
   }
  },
  {
   "data": {"name": "Lsup"},
   "mark": {"type": "text", "font": "Liberation Serif", "fontSize": 12, "align": "left", "baseline": "middle", "color": "#000"},
   "encoding": {
    "x": {"field": "k", "type": "quantitative", "scale": {"type": "log", "domain": [1, 64], "nice": false}, "axis": null},
    "y": {"field": "v", "type": "quantitative", "scale": {"type": "log", "domain": [1, 200000], "nice": false}, "axis": null},
    "text": {"field": "t"}
   }
  }
 ]
},
{
 "width": 336, "height": 254,
 "resolve": {"axis": {"x": "independent", "y": "independent"}},
 "layer": [
  {
   "data": {"name": "R"},
   "mark": {"type": "line", "strokeWidth": 2.4, "clip": true},
   "encoding": {
    "x": {"field": "k", "type": "quantitative", "scale": {"type": "log", "domain": [1, 64], "nice": false},
      "axis": {"orient": "bottom", "title": "k = l + 1/2   [m⁻¹]", "titleFontStyle": "italic", "titlePadding": 3, "tickCount": 10,
        "labelExpr": "abs(log(datum.value)/LN10 - round(log(datum.value)/LN10)) < 0.001 ? '10' + ['⁰','¹','²','³','⁴','⁵','⁶'][round(log(datum.value)/LN10)] : ''",
        "labelFontSize": {"condition": {"test": "abs(log(datum.value)/LN10 - round(log(datum.value)/LN10)) < 0.001", "value": 18}, "value": 0},
        "tickSize": {"condition": {"test": "abs(log(datum.value)/LN10 - round(log(datum.value)/LN10)) < 0.001", "value": -7}, "value": -4},
        "labelPadding": 9}},
    "y": {"field": "v", "type": "quantitative", "scale": {"type": "log", "domain": [31, 1950000], "nice": false},
      "axis": {"orient": "left", "title": "Ẽₖ,ₘ  [J m⁻³]  ,  (r = 0.9R⊙)", "titlePadding": 3, "tickCount": 10,
        "labelExpr": "abs(log(datum.value)/LN10 - round(log(datum.value)/LN10)) < 0.001 ? '10' + ['⁰','¹','²','³','⁴','⁵','⁶'][round(log(datum.value)/LN10)] : ''",
        "labelFontSize": {"condition": {"test": "abs(log(datum.value)/LN10 - round(log(datum.value)/LN10)) < 0.001", "value": 18}, "value": 0},
        "tickSize": {"condition": {"test": "abs(log(datum.value)/LN10 - round(log(datum.value)/LN10)) < 0.001", "value": -7}, "value": -4},
        "labelPadding": 9}},
    "color": {"field": "s", "type": "nominal",
      "scale": {"domain": ["RC07","RC18","RC21","RC24","RC35","RC42","RC49","RC56","RC63"], "range": ["#ff0000","#008000","#0000ff","#000000","#ffa500","#00bfbf","#bf00bf","#ff6347","#008080"]},
      "legend": null},
    "strokeDash": {"field": "d", "type": "nominal", "scale": {"domain": ["s","d"], "range": [[1,0],[6,3.5]]}, "legend": null}
   }
  },
  {
   "data": {"name": "Rref"},
   "mark": {"type": "line", "color": "#000", "strokeWidth": 2, "strokeDash": [5,4]},
   "encoding": {
    "x": {"field": "k", "type": "quantitative", "scale": {"type": "log", "domain": [1, 64], "nice": false},
      "axis": {"orient": "top", "title": null, "labels": false, "tickCount": 10, "labelPadding": 0, "minExtent": 0, "maxExtent": 0,
        "tickSize": {"condition": {"test": "abs(log(datum.value)/LN10 - round(log(datum.value)/LN10)) < 0.001", "value": -7}, "value": -4}}},
    "y": {"field": "v", "type": "quantitative", "scale": {"type": "log", "domain": [31, 1950000], "nice": false},
      "axis": {"orient": "right", "title": null, "labels": false, "tickCount": 10, "labelPadding": 0, "minExtent": 0, "maxExtent": 0,
        "tickSize": {"condition": {"test": "abs(log(datum.value)/LN10 - round(log(datum.value)/LN10)) < 0.001", "value": -7}, "value": -4}}}
   }
  },
  {
   "data": {"name": "Rk"},
   "mark": {"type": "text", "font": "Liberation Serif", "fontStyle": "italic", "fontSize": 19, "align": "center", "baseline": "middle", "color": "#000"},
   "encoding": {
    "x": {"field": "k", "type": "quantitative", "scale": {"type": "log", "domain": [1, 64], "nice": false}, "axis": null},
    "y": {"field": "v", "type": "quantitative", "scale": {"type": "log", "domain": [31, 1950000], "nice": false}, "axis": null},
    "text": {"field": "t"}
   }
  },
  {
   "data": {"name": "Rsup"},
   "mark": {"type": "text", "font": "Liberation Serif", "fontSize": 12, "align": "left", "baseline": "middle", "color": "#000"},
   "encoding": {
    "x": {"field": "k", "type": "quantitative", "scale": {"type": "log", "domain": [1, 64], "nice": false}, "axis": null},
    "y": {"field": "v", "type": "quantitative", "scale": {"type": "log", "domain": [31, 1950000], "nice": false}, "axis": null},
    "text": {"field": "t"}
   }
  }
 ]
}
],
"spacing": 21,
"resolve": {"scale": {"color": "independent", "strokeDash": "independent"}, "legend": {"color": "independent", "strokeDash": "independent"}}
}
